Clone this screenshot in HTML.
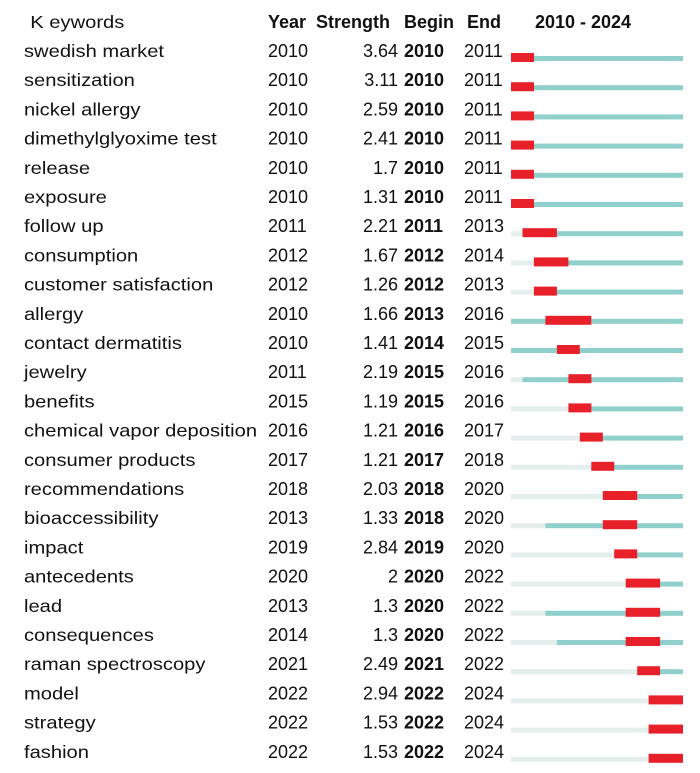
<!DOCTYPE html>
<html><head><meta charset="utf-8"><style>
html,body{margin:0;padding:0;background:#fff;}
svg{display:block;}
text{font-family:"Liberation Sans",sans-serif;font-size:18px;fill:#111;}
.b{font-weight:bold;}
.r{text-anchor:end;}
</style></head><body>
<svg width="700" height="773" viewBox="0 0 700 773" xmlns="http://www.w3.org/2000/svg">
<text x="27" y="28" transform="scale(1.12 1)">K eywords</text>
<text x="268" y="28" class="b">Year</text>
<text x="316" y="28" class="b">Strength</text>
<text x="404" y="28" class="b">Begin</text>
<text x="467" y="28" class="b">End</text>
<text x="583" y="28" class="b" text-anchor="middle">2010 - 2024</text>
<g transform="translate(0,57)"><text x="21.4" y="0" transform="scale(1.12 1)">swedish market</text><text x="268" y="0">2010</text><text x="398" y="0" class="r">3.64</text><text x="404" y="0" class="b">2010</text><text x="464" y="0">2011</text><rect x="511" y="-1" width="172" height="5" fill="#8fd0cc"/><rect x="511" y="-4" width="23" height="9" fill="#e8202a"/></g>
<g transform="translate(0,86.2)"><text x="21.4" y="0" transform="scale(1.12 1)">sensitization</text><text x="268" y="0">2010</text><text x="398" y="0" class="r">3.11</text><text x="404" y="0" class="b">2010</text><text x="464" y="0">2011</text><rect x="511" y="-1" width="172" height="5" fill="#8fd0cc"/><rect x="511" y="-4" width="23" height="9" fill="#e8202a"/></g>
<g transform="translate(0,115.4)"><text x="21.4" y="0" transform="scale(1.12 1)">nickel allergy</text><text x="268" y="0">2010</text><text x="398" y="0" class="r">2.59</text><text x="404" y="0" class="b">2010</text><text x="464" y="0">2011</text><rect x="511" y="-1" width="172" height="5" fill="#8fd0cc"/><rect x="511" y="-4" width="23" height="9" fill="#e8202a"/></g>
<g transform="translate(0,144.6)"><text x="21.4" y="0" transform="scale(1.12 1)">dimethylglyoxime test</text><text x="268" y="0">2010</text><text x="398" y="0" class="r">2.41</text><text x="404" y="0" class="b">2010</text><text x="464" y="0">2011</text><rect x="511" y="-1" width="172" height="5" fill="#8fd0cc"/><rect x="511" y="-4" width="23" height="9" fill="#e8202a"/></g>
<g transform="translate(0,173.8)"><text x="21.4" y="0" transform="scale(1.12 1)">release</text><text x="268" y="0">2010</text><text x="398" y="0" class="r">1.7</text><text x="404" y="0" class="b">2010</text><text x="464" y="0">2011</text><rect x="511" y="-1" width="172" height="5" fill="#8fd0cc"/><rect x="511" y="-4" width="23" height="9" fill="#e8202a"/></g>
<g transform="translate(0,203)"><text x="21.4" y="0" transform="scale(1.12 1)">exposure</text><text x="268" y="0">2010</text><text x="398" y="0" class="r">1.31</text><text x="404" y="0" class="b">2010</text><text x="464" y="0">2011</text><rect x="511" y="-1" width="172" height="5" fill="#8fd0cc"/><rect x="511" y="-4" width="23" height="9" fill="#e8202a"/></g>
<g transform="translate(0,232.2)"><text x="21.4" y="0" transform="scale(1.12 1)">follow up</text><text x="268" y="0">2011</text><text x="398" y="0" class="r">2.21</text><text x="404" y="0" class="b">2011</text><text x="464" y="0">2013</text><rect x="511" y="-1" width="11.5" height="5" fill="#e4efed"/><rect x="522.5" y="-1" width="160.5" height="5" fill="#8fd0cc"/><rect x="522.5" y="-4" width="34.4" height="9" fill="#e8202a"/></g>
<g transform="translate(0,261.4)"><text x="21.4" y="0" transform="scale(1.12 1)">consumption</text><text x="268" y="0">2012</text><text x="398" y="0" class="r">1.67</text><text x="404" y="0" class="b">2012</text><text x="464" y="0">2014</text><rect x="511" y="-1" width="22.9" height="5" fill="#e4efed"/><rect x="533.9" y="-1" width="149.1" height="5" fill="#8fd0cc"/><rect x="533.9" y="-4" width="34.5" height="9" fill="#e8202a"/></g>
<g transform="translate(0,290.6)"><text x="21.4" y="0" transform="scale(1.12 1)">customer satisfaction</text><text x="268" y="0">2012</text><text x="398" y="0" class="r">1.26</text><text x="404" y="0" class="b">2012</text><text x="464" y="0">2013</text><rect x="511" y="-1" width="22.9" height="5" fill="#e4efed"/><rect x="533.9" y="-1" width="149.1" height="5" fill="#8fd0cc"/><rect x="533.9" y="-4" width="23" height="9" fill="#e8202a"/></g>
<g transform="translate(0,319.8)"><text x="21.4" y="0" transform="scale(1.12 1)">allergy</text><text x="268" y="0">2010</text><text x="398" y="0" class="r">1.66</text><text x="404" y="0" class="b">2013</text><text x="464" y="0">2016</text><rect x="511" y="-1" width="172" height="5" fill="#8fd0cc"/><rect x="545.4" y="-4" width="45.9" height="9" fill="#e8202a"/></g>
<g transform="translate(0,349)"><text x="21.4" y="0" transform="scale(1.12 1)">contact dermatitis</text><text x="268" y="0">2010</text><text x="398" y="0" class="r">1.41</text><text x="404" y="0" class="b">2014</text><text x="464" y="0">2015</text><rect x="511" y="-1" width="172" height="5" fill="#8fd0cc"/><rect x="556.9" y="-4" width="22.9" height="9" fill="#e8202a"/></g>
<g transform="translate(0,378.2)"><text x="21.4" y="0" transform="scale(1.12 1)">jewelry</text><text x="268" y="0">2011</text><text x="398" y="0" class="r">2.19</text><text x="404" y="0" class="b">2015</text><text x="464" y="0">2016</text><rect x="511" y="-1" width="11.5" height="5" fill="#e4efed"/><rect x="522.5" y="-1" width="160.5" height="5" fill="#8fd0cc"/><rect x="568.4" y="-4" width="23" height="9" fill="#e8202a"/></g>
<g transform="translate(0,407.4)"><text x="21.4" y="0" transform="scale(1.12 1)">benefits</text><text x="268" y="0">2015</text><text x="398" y="0" class="r">1.19</text><text x="404" y="0" class="b">2015</text><text x="464" y="0">2016</text><rect x="511" y="-1" width="57.4" height="5" fill="#e4efed"/><rect x="568.4" y="-1" width="114.6" height="5" fill="#8fd0cc"/><rect x="568.4" y="-4" width="23" height="9" fill="#e8202a"/></g>
<g transform="translate(0,436.6)"><text x="21.4" y="0" transform="scale(1.12 1)">chemical vapor deposition</text><text x="268" y="0">2016</text><text x="398" y="0" class="r">1.21</text><text x="404" y="0" class="b">2016</text><text x="464" y="0">2017</text><rect x="511" y="-1" width="68.8" height="5" fill="#e4efed"/><rect x="579.8" y="-1" width="103.2" height="5" fill="#8fd0cc"/><rect x="579.8" y="-4" width="23" height="9" fill="#e8202a"/></g>
<g transform="translate(0,465.8)"><text x="21.4" y="0" transform="scale(1.12 1)">consumer products</text><text x="268" y="0">2017</text><text x="398" y="0" class="r">1.21</text><text x="404" y="0" class="b">2017</text><text x="464" y="0">2018</text><rect x="511" y="-1" width="80.3" height="5" fill="#e4efed"/><rect x="591.3" y="-1" width="91.7" height="5" fill="#8fd0cc"/><rect x="591.3" y="-4" width="22.9" height="9" fill="#e8202a"/></g>
<g transform="translate(0,495)"><text x="21.4" y="0" transform="scale(1.12 1)">recommendations</text><text x="268" y="0">2018</text><text x="398" y="0" class="r">2.03</text><text x="404" y="0" class="b">2018</text><text x="464" y="0">2020</text><rect x="511" y="-1" width="91.8" height="5" fill="#e4efed"/><rect x="602.8" y="-1" width="80.2" height="5" fill="#8fd0cc"/><rect x="602.8" y="-4" width="34.4" height="9" fill="#e8202a"/></g>
<g transform="translate(0,524.2)"><text x="21.4" y="0" transform="scale(1.12 1)">bioaccessibility</text><text x="268" y="0">2013</text><text x="398" y="0" class="r">1.33</text><text x="404" y="0" class="b">2018</text><text x="464" y="0">2020</text><rect x="511" y="-1" width="34.4" height="5" fill="#e4efed"/><rect x="545.4" y="-1" width="137.6" height="5" fill="#8fd0cc"/><rect x="602.8" y="-4" width="34.4" height="9" fill="#e8202a"/></g>
<g transform="translate(0,553.4)"><text x="21.4" y="0" transform="scale(1.12 1)">impact</text><text x="268" y="0">2019</text><text x="398" y="0" class="r">2.84</text><text x="404" y="0" class="b">2019</text><text x="464" y="0">2020</text><rect x="511" y="-1" width="103.2" height="5" fill="#e4efed"/><rect x="614.2" y="-1" width="68.8" height="5" fill="#8fd0cc"/><rect x="614.2" y="-4" width="23" height="9" fill="#e8202a"/></g>
<g transform="translate(0,582.6)"><text x="21.4" y="0" transform="scale(1.12 1)">antecedents</text><text x="268" y="0">2020</text><text x="398" y="0" class="r">2</text><text x="404" y="0" class="b">2020</text><text x="464" y="0">2022</text><rect x="511" y="-1" width="114.7" height="5" fill="#e4efed"/><rect x="625.7" y="-1" width="57.3" height="5" fill="#8fd0cc"/><rect x="625.7" y="-4" width="34.4" height="9" fill="#e8202a"/></g>
<g transform="translate(0,611.8)"><text x="21.4" y="0" transform="scale(1.12 1)">lead</text><text x="268" y="0">2013</text><text x="398" y="0" class="r">1.3</text><text x="404" y="0" class="b">2020</text><text x="464" y="0">2022</text><rect x="511" y="-1" width="34.4" height="5" fill="#e4efed"/><rect x="545.4" y="-1" width="137.6" height="5" fill="#8fd0cc"/><rect x="625.7" y="-4" width="34.4" height="9" fill="#e8202a"/></g>
<g transform="translate(0,641)"><text x="21.4" y="0" transform="scale(1.12 1)">consequences</text><text x="268" y="0">2014</text><text x="398" y="0" class="r">1.3</text><text x="404" y="0" class="b">2020</text><text x="464" y="0">2022</text><rect x="511" y="-1" width="45.9" height="5" fill="#e4efed"/><rect x="556.9" y="-1" width="126.1" height="5" fill="#8fd0cc"/><rect x="625.7" y="-4" width="34.4" height="9" fill="#e8202a"/></g>
<g transform="translate(0,670.2)"><text x="21.4" y="0" transform="scale(1.12 1)">raman spectroscopy</text><text x="268" y="0">2021</text><text x="398" y="0" class="r">2.49</text><text x="404" y="0" class="b">2021</text><text x="464" y="0">2022</text><rect x="511" y="-1" width="126.2" height="5" fill="#e4efed"/><rect x="637.2" y="-1" width="45.8" height="5" fill="#8fd0cc"/><rect x="637.2" y="-4" width="22.9" height="9" fill="#e8202a"/></g>
<g transform="translate(0,699.4)"><text x="21.4" y="0" transform="scale(1.12 1)">model</text><text x="268" y="0">2022</text><text x="398" y="0" class="r">2.94</text><text x="404" y="0" class="b">2022</text><text x="464" y="0">2024</text><rect x="511" y="-1" width="137.6" height="5" fill="#e4efed"/><rect x="648.6" y="-4" width="34.4" height="9" fill="#e8202a"/></g>
<g transform="translate(0,728.6)"><text x="21.4" y="0" transform="scale(1.12 1)">strategy</text><text x="268" y="0">2022</text><text x="398" y="0" class="r">1.53</text><text x="404" y="0" class="b">2022</text><text x="464" y="0">2024</text><rect x="511" y="-1" width="137.6" height="5" fill="#e4efed"/><rect x="648.6" y="-4" width="34.4" height="9" fill="#e8202a"/></g>
<g transform="translate(0,757.8)"><text x="21.4" y="0" transform="scale(1.12 1)">fashion</text><text x="268" y="0">2022</text><text x="398" y="0" class="r">1.53</text><text x="404" y="0" class="b">2022</text><text x="464" y="0">2024</text><rect x="511" y="-1" width="137.6" height="5" fill="#e4efed"/><rect x="648.6" y="-4" width="34.4" height="9" fill="#e8202a"/></g>
</svg>
</body></html>
